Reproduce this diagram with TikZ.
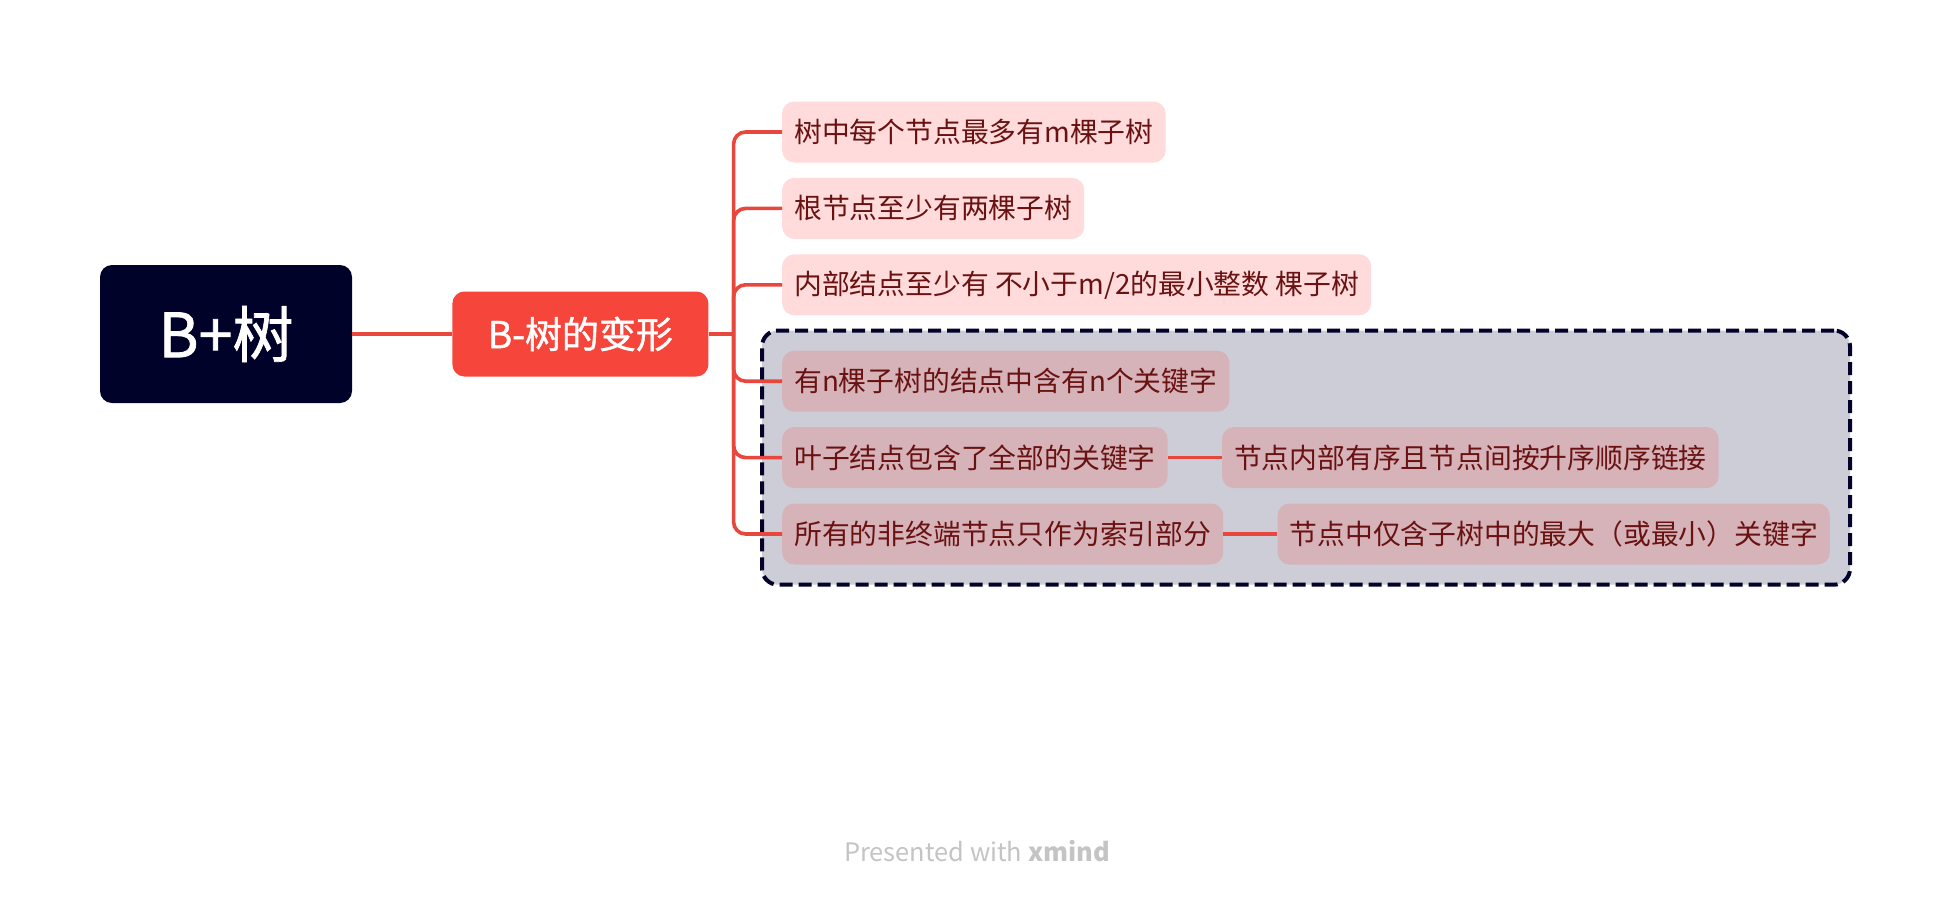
\documentclass[tikz,border=0pt]{standalone}
\usepackage{fontspec}
\setmainfont{Noto Sans CJK SC}
\newfontfamily\medfont[FakeBold=1.2]{Noto Sans CJK SC}
\usepackage{tikz}
\usetikzlibrary{positioning,fit,backgrounds}
\definecolor{rootnavy}{HTML}{000229}
\definecolor{topicred}{HTML}{F6463B}
\definecolor{linered}{HTML}{E8473D}
\definecolor{subpink}{HTML}{FFDBDB}
\definecolor{subtext}{HTML}{6A1212}
\definecolor{boundgray}{HTML}{CDCDD7}
\definecolor{subdim}{HTML}{D5B3B9}
\definecolor{boundline}{HTML}{02022A}
\definecolor{creditgray}{HTML}{C4C4C4}

\begin{document}
\begin{tikzpicture}[
  x=1pt, y=1pt,
  font=\fontsize{27.8}{32}\selectfont,
  node distance=15pt and 54pt,
  box/.style={rounded corners=12pt, inner xsep=12pt, minimum height=61pt},
  rootbox/.style={box, fill=rootnavy, text=white, minimum width=252pt,
                  minimum height=138pt, font=\medfont\fontsize{61}{64}\selectfont},
  topic/.style={box, fill=topicred, text=white, minimum width=256pt,
                minimum height=85pt, font=\medfont\fontsize{37}{40}\selectfont},
  sub/.style={box, fill=subpink, text=subtext},
  subin/.style={box, fill=subdim, text=subtext},
  conn/.style={draw=linered, line width=3.6pt},
  bound/.style={draw=boundline, fill=boundgray, line width=4pt,
                dash pattern=on 13pt off 6pt, rounded corners=16pt, inner sep=20pt},
]
\path[use as bounding box] (0,0) rectangle (1956,-902);
% ---- central topic ----------------------------------------------------
\node[rootbox] (root) at (226,-334) {B+树};
\node[topic, right=100pt of root] (bvar) {B-树的变形};
% ---- subtopics --------------------------------------------------------
\node[sub, anchor=west] (c1) at (782,-132) {树中每个节点最多有m棵子树};
\node[sub, below=15pt of c1.south west, anchor=north west] (c2)
  {根节点至少有两棵子树};
\node[sub, below=15pt of c2.south west, anchor=north west] (c3)
  {内部结点至少有 不小于m/2的最小整数 棵子树};
\node[subin, below=35pt of c3.south west, anchor=north west] (c4)
  {有n棵子树的结点中含有n个关键字};
\node[subin, below=15pt of c4.south west, anchor=north west] (c5)
  {叶子结点包含了全部的关键字};
\node[subin, below=15pt of c5.south west, anchor=north west] (c6)
  {所有的非终端节点只作为索引部分};
\node[subin, right=of c5] (c5a) {节点内部有序且节点间按升序顺序链接};
\node[subin, right=of c6] (c6a) {节点中仅含子树中的最大（或最小）关键字};
% ---- boundary ---------------------------------------------------------
\begin{scope}[on background layer]
\fill[white] (0,0) rectangle (1956,-902);
\node[bound, fit=(c4)(c5a)(c6a)] (bnd) {};
\end{scope}
% ---- edges ------------------------------------------------------------
\coordinate (spine) at ([xshift=25pt]bvar.east);
\draw[conn] (root) -- (bvar);
\draw[conn] (bvar.east) -- (spine);
\foreach \c in {c1,c2,c3,c4,c5,c6}
  \draw[conn, rounded corners=12pt] (spine) |- (\c.west);
\draw[conn] (c5) -- (c5a);
\draw[conn] (c6) -- (c6a);
% ---- credit -----------------------------------------------------------
\node[text=creditgray, font=\fontsize{25.4}{28}\selectfont] (credit) at (977,-851)
  {Presented with \textbf{xmind}};
\end{tikzpicture}
\end{document}
